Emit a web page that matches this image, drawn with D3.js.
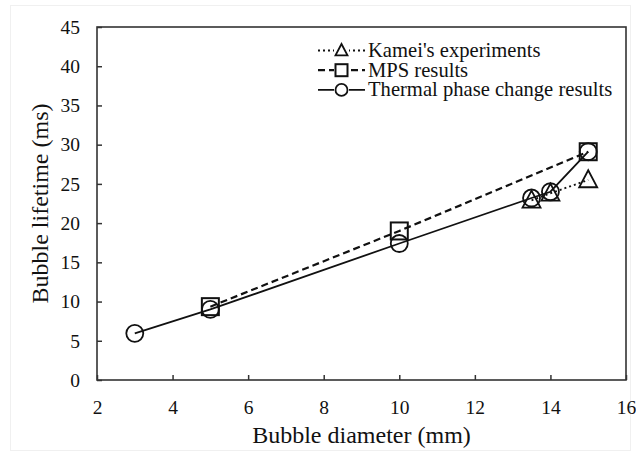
<!DOCTYPE html>
<html><head><meta charset="utf-8">
<script src="https://cdn.jsdelivr.net/npm/d3@7"></script>
<style>body{margin:0;background:#fff;}</style>
</head><body><svg id="c" width="636" height="451" font-family="Liberation Serif"></svg>
<script>
const xTicks = [2,4,6,8,10,12,14,16];
const yTicks = [0,5,10,15,20,25,30,35,40,45];
const kameiX = [13.5, 14, 15];
const kameiY = [22.9, 23.8, 25.5];
const mpsX = [5, 10, 15];
const mpsY = [9.35, 19.0, 29.1];
const thermalX = [3, 5, 10, 13.5, 14, 15];
const thermalY = [5.95, 9.0, 17.4, 23.2, 24.0, 29.1];
const legendLabels = ["Kamei's experiments", "MPS results", "Thermal phase change results"];

const FONT = "Liberation Serif";
const svg = d3.select("#c");
const m = {l:97, t:27, r:626, b:380};
const x = d3.scaleLinear().domain([2,16]).range([m.l, m.r]);
const y = d3.scaleLinear().domain([0,45]).range([m.b, m.t]);

svg.append("rect").attr("x",10.5).attr("y",5.5).attr("width",620).attr("height",445).attr("fill","none").attr("stroke","#f0f0f0");

const gx = svg.append("g").attr("transform",`translate(0,${m.b})`)
  .call(d3.axisBottom(x).tickValues(xTicks).tickSize(-5).tickPadding(20).tickFormat(d3.format("d")));
const gy = svg.append("g").attr("transform",`translate(${m.l},0)`)
  .call(d3.axisLeft(y).tickValues(yTicks).tickSize(-5).tickPadding(17).tickFormat(d3.format("d")));
[gx,gy].forEach(g=>{
  g.attr("font-family",FONT).attr("font-size",19.5);
  g.select(".domain").remove();
  g.selectAll(".tick line").attr("stroke","#333").attr("stroke-width",1.5);
  g.selectAll("text").attr("font-family",FONT).attr("fill","#111");
});
svg.append("rect").attr("x",m.l).attr("y",m.t).attr("width",m.r-m.l).attr("height",m.b-m.t)
  .attr("fill","none").attr("stroke","#333").attr("stroke-width",1.6);

svg.append("text").attr("x",(m.l+m.r)/2).attr("y",443).attr("text-anchor","middle")
  .attr("font-family",FONT).attr("font-size",24).attr("fill","#111").text("Bubble diameter (mm)");
svg.append("text").attr("transform",`translate(48,${(m.t+m.b)/2}) rotate(-90)`).attr("text-anchor","middle")
  .attr("font-family",FONT).attr("font-size",24).attr("fill","#111").text("Bubble lifetime (ms)");

const series = [
  {xs:kameiX, ys:kameiY, dash:"2,3", w:1.8, shape:"tri"},
  {xs:mpsX, ys:mpsY, dash:"7,4", w:2.2, shape:"sq"},
  {xs:thermalX, ys:thermalY, dash:null, w:1.8, shape:"circ"}
];
const line = d3.line().x(d=>x(d[0])).y(d=>y(d[1]));
function drawMarker(g, shape, cx, cy, s){
  if(shape==="tri"){
    const h=s*0.9;
    g.append("path").attr("d",`M${cx},${cy-h*0.6}L${cx+s/2},${cy+h*0.45}L${cx-s/2},${cy+h*0.45}Z`)
      .attr("fill","none").attr("stroke","#111").attr("stroke-width",1.8);
  } else if(shape==="sq"){
    g.append("rect").attr("x",cx-s/2).attr("y",cy-s/2).attr("width",s).attr("height",s)
      .attr("fill","none").attr("stroke","#111").attr("stroke-width",2);
  } else {
    g.append("circle").attr("cx",cx).attr("cy",cy).attr("r",s/2)
      .attr("fill","none").attr("stroke","#111").attr("stroke-width",1.8);
  }
}
series.forEach(s=>{
  const pts = s.xs.map((v,i)=>[v,s.ys[i]]);
  svg.append("path").attr("d",line(pts)).attr("fill","none").attr("stroke","#111")
    .attr("stroke-width",s.w).attr("stroke-dasharray",s.dash);
});
series.forEach(s=>{
  const g = svg.append("g");
  s.xs.forEach((v,i)=>drawMarker(g,s.shape,x(v),y(s.ys[i]), s.shape==="tri"?18:17));
});

const lg = svg.append("g");
legendLabels.forEach((lab,i)=>{
  const ly = 50.5 + i*19.7;
  const s = series[i];
  lg.append("line").attr("x1",318).attr("x2",365).attr("y1",ly).attr("y2",ly)
    .attr("stroke","#111").attr("stroke-width",s.w).attr("stroke-dasharray",s.dash);
  lg.append("rect").attr("x",334).attr("y",ly-7).attr("width",15).attr("height",14).attr("fill","#fff");
  drawMarker(lg,s.shape,341.5,ly,12);
  lg.append("text").attr("x",368).attr("y",ly+6.5).attr("font-family",FONT).attr("font-size",20.6)
    .attr("fill","#111").text(lab);
});
</script></body></html>
